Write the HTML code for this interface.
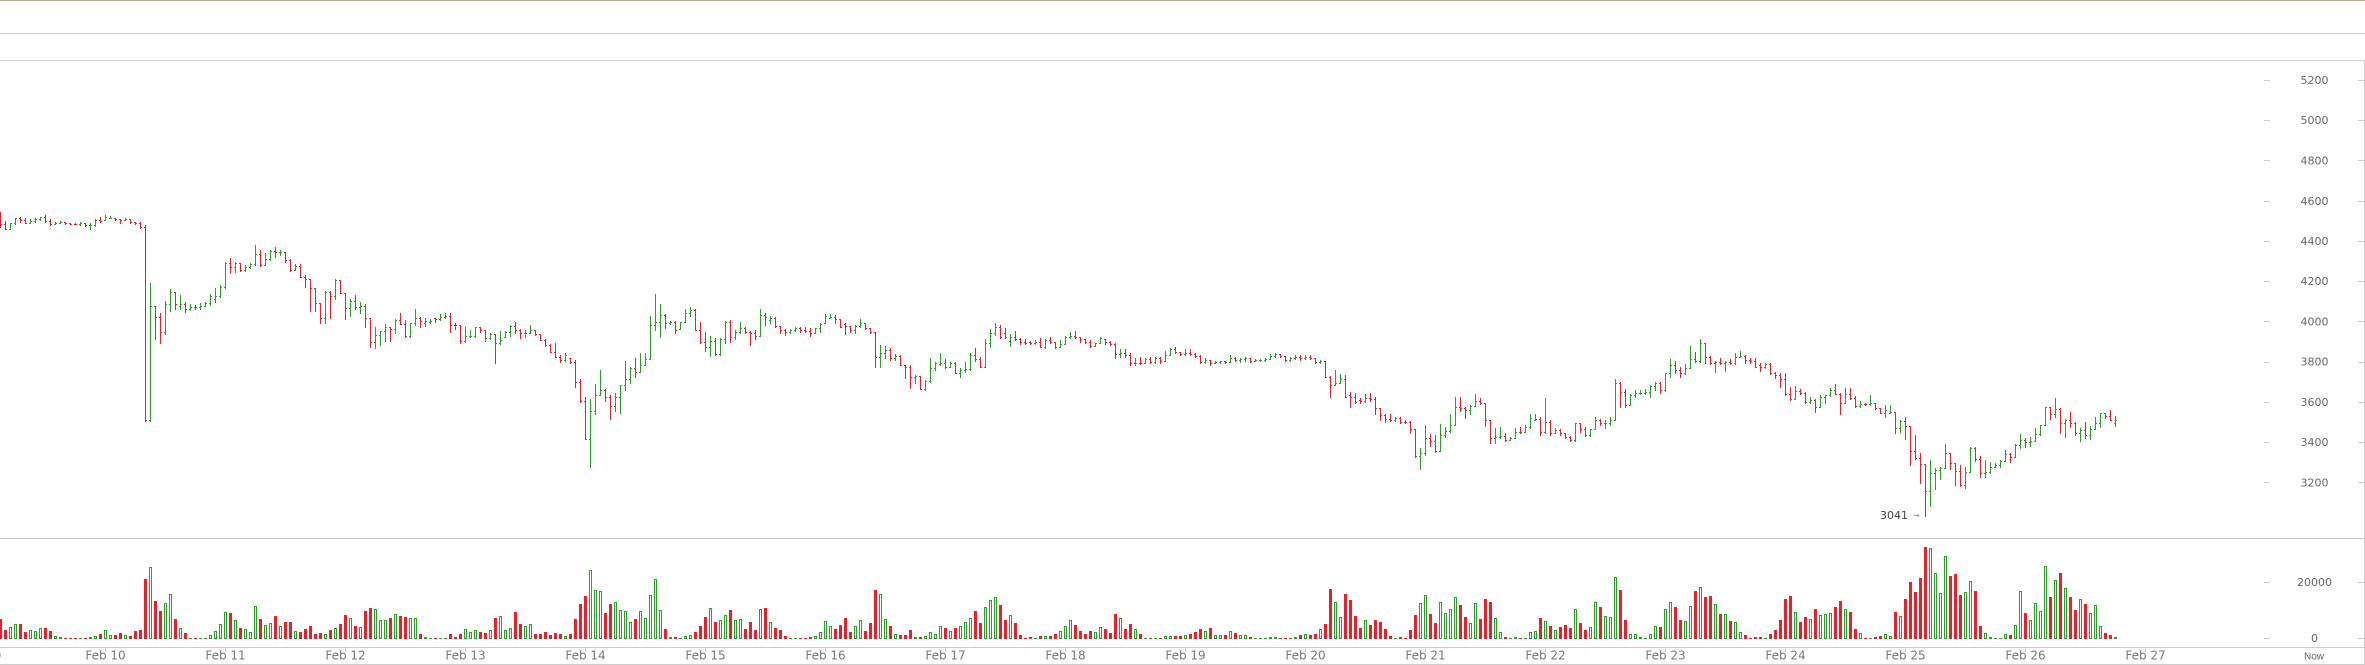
<!DOCTYPE html>
<html><head><meta charset="utf-8">
<style>
html,body{margin:0;padding:0;background:#fff;}
body{width:2365px;height:665px;overflow:hidden;position:relative;}
svg{position:absolute;left:0;top:0;}
.ax{font-family:"DejaVu Sans","Liberation Sans",sans-serif;font-size:11px;fill:#666;}
.dt{font-family:"DejaVu Sans","Liberation Sans",sans-serif;font-size:12px;fill:#777;}
</style></head><body>
<svg id="c" width="2365" height="665" viewBox="0 0 2365 665" xmlns="http://www.w3.org/2000/svg" shape-rendering="crispEdges">
<rect x="0" y="0" width="2365" height="665" fill="#fff"/>
<rect x="0" y="0" width="2365" height="1" fill="#b9ad97"/>
<rect x="0" y="33" width="2365" height="1" fill="#ccc"/>
<rect x="0" y="60" width="2365" height="1" fill="#ccc"/>
<rect x="2364" y="60" width="1" height="605" fill="#ccc"/>
<rect x="0" y="538" width="2365" height="1" fill="#ccc"/>
<rect x="0" y="647" width="2365" height="1" fill="#ccc"/>
<rect x="0" y="664" width="2365" height="1" fill="#ccc"/>

<g fill="#ccc">
<rect x="2264" y="80" width="6" height="1"/><rect x="2358" y="80" width="6" height="1"/>
<rect x="2264" y="120" width="6" height="1"/><rect x="2358" y="120" width="6" height="1"/>
<rect x="2264" y="160" width="6" height="1"/><rect x="2358" y="160" width="6" height="1"/>
<rect x="2264" y="201" width="6" height="1"/><rect x="2358" y="201" width="6" height="1"/>
<rect x="2264" y="241" width="6" height="1"/><rect x="2358" y="241" width="6" height="1"/>
<rect x="2264" y="281" width="6" height="1"/><rect x="2358" y="281" width="6" height="1"/>
<rect x="2264" y="321" width="6" height="1"/><rect x="2358" y="321" width="6" height="1"/>
<rect x="2264" y="362" width="6" height="1"/><rect x="2358" y="362" width="6" height="1"/>
<rect x="2264" y="402" width="6" height="1"/><rect x="2358" y="402" width="6" height="1"/>
<rect x="2264" y="442" width="6" height="1"/><rect x="2358" y="442" width="6" height="1"/>
<rect x="2264" y="482" width="6" height="1"/><rect x="2358" y="482" width="6" height="1"/>
<rect x="2264" y="582" width="6" height="1"/><rect x="2358" y="582" width="6" height="1"/>
<rect x="2264" y="638" width="6" height="1"/><rect x="2358" y="638" width="6" height="1"/>
</g>
<g class="ax" text-anchor="middle">
<text x="2314.5" y="84">5200</text>
<text x="2314.5" y="124">5000</text>
<text x="2314.5" y="164.5">4800</text>
<text x="2314.5" y="205">4600</text>
<text x="2314.5" y="245">4400</text>
<text x="2314.5" y="285">4200</text>
<text x="2314.5" y="325.5">4000</text>
<text x="2314.5" y="365.5">3800</text>
<text x="2314.5" y="406">3600</text>
<text x="2314.5" y="446">3400</text>
<text x="2314.5" y="486.5">3200</text>
<text x="2314.5" y="586">20000</text>
<text x="2314.5" y="642">0</text>
</g>
<text x="2314" y="659.5" text-anchor="middle" style="font-family:'Liberation Sans',sans-serif;font-size:10px;fill:#666;">Now</text>

<g fill="#ccc">
<rect x="105" y="648" width="1" height="4"/><rect x="225" y="648" width="1" height="4"/>
<rect x="345" y="648" width="1" height="4"/><rect x="465" y="648" width="1" height="4"/>
<rect x="585" y="648" width="1" height="4"/><rect x="705" y="648" width="1" height="4"/>
<rect x="825" y="648" width="1" height="4"/><rect x="945" y="648" width="1" height="4"/>
<rect x="1065" y="648" width="1" height="4"/><rect x="1185" y="648" width="1" height="4"/>
<rect x="1305" y="648" width="1" height="4"/><rect x="1425" y="648" width="1" height="4"/>
<rect x="1545" y="648" width="1" height="4"/><rect x="1665" y="648" width="1" height="4"/>
<rect x="1785" y="648" width="1" height="4"/><rect x="1905" y="648" width="1" height="4"/>
<rect x="2025" y="648" width="1" height="4"/><rect x="2145" y="648" width="1" height="4"/>
</g>
<g class="dt" text-anchor="middle">
<text x="-15" y="659.5">Feb 9</text>
<text x="105.5" y="659.5">Feb 10</text>
<text x="225.5" y="659.5">Feb 11</text>
<text x="345.5" y="659.5">Feb 12</text>
<text x="465.5" y="659.5">Feb 13</text>
<text x="585.5" y="659.5">Feb 14</text>
<text x="705.5" y="659.5">Feb 15</text>
<text x="825.5" y="659.5">Feb 16</text>
<text x="945.5" y="659.5">Feb 17</text>
<text x="1065.5" y="659.5">Feb 18</text>
<text x="1185.5" y="659.5">Feb 19</text>
<text x="1305.5" y="659.5">Feb 20</text>
<text x="1425.5" y="659.5">Feb 21</text>
<text x="1545.5" y="659.5">Feb 22</text>
<text x="1665.5" y="659.5">Feb 23</text>
<text x="1785.5" y="659.5">Feb 24</text>
<text x="1905.5" y="659.5">Feb 25</text>
<text x="2025.5" y="659.5">Feb 26</text>
<text x="2145.5" y="659.5">Feb 27</text>
</g>

<text x="1880" y="519" style="font-family:'DejaVu Sans',sans-serif;font-size:11px;fill:#444;">3041</text>
<text x="1913" y="518" style="font-family:'DejaVu Sans',sans-serif;font-size:8px;fill:#888;">→</text>

<g id="bars"></g>
</svg>
<script>
var P=[65,112,103, 93,118,117, 98,118,100, 83,103,85, 82,95,90, 85,100,98, 87,98,92, 85,95,88, 80,90,82, 76,95,92,
88,105,103, 95,103,98, 92,100,96, 96,102,100, 98,103,101, 100,103,102, 97,104,100, 100,108,106, 100,118,105, 88,108,90,
80,95,92, 76,90,82, 78,85,83, 84,90,88, 87,98,90, 85,90,86, 87,100,97, 95,103,100, 95,113,110, 105,693,690,
280,693,349, 349,448,382, 370,458,425, 333,432,342, 297,362,307, 307,358,342, 315,356,342, 337,365,358, 343,360,350, 345,356,352,
340,356,348, 336,348,338, 313,345,318, 295,335,318, 285,320,292, 215,295,218, 205,250,232, 215,245,218, 218,242,240, 226,242,232,
218,235,222, 165,225,192, 180,228,225, 190,225,206, 180,210,182, 172,200,187, 180,195,186, 186,217,210, 208,242,240, 222,240,228,
222,262,260, 255,290,268, 268,362,295, 295,362,340, 340,398,385, 303,398,305, 303,383,318, 268,326,270, 270,310,310, 310,386,355,
326,378,332, 315,356,350, 337,368,348, 342,412,384, 384,470,457, 410,473,436, 423,465,424, 403,452,412, 412,452,417, 387,430,390,
370,403,403, 390,440,438, 400,440,400, 357,405,383, 382,412,392, 384,407,392, 388,400,392, 383,397,387, 372,390,380, 370,385,377,
370,425,405, 400,418,406, 406,458,452, 410,456,438, 420,440,437, 410,440,412, 410,425,420, 420,452,444, 430,448,432, 432,518,460,
423,462,450, 423,440,425, 405,437,407, 397,428,420, 418,445,430, 420,440,428, 405,430,420, 420,435,433, 433,450,450, 448,467,465,
462,485,485, 460,502,500, 495,515,510, 490,512,495, 503,520,515, 510,590,577, 568,637,632, 622,748,746, 628,832,663, 582,673,615,
540,615,600, 598,632,620, 615,688,648, 608,662,620, 585,668,585, 513,600,568, 530,578,533, 505,560,545, 490,547,525, 490,525,506,
378,508,406, 312,420,395, 343,440,374, 372,415,398, 392,402,395, 392,428,420, 395,418,395, 356,395,370, 352,378,360, 358,420,420,
395,458,455, 425,483,472, 437,497,452, 445,495,492, 445,495,447, 393,460,395, 390,455,440, 420,448,425, 396,430,415, 410,430,427,
422,465,430, 420,448,437, 357,438,375, 370,405,382, 378,398,383, 380,410,408, 408,428,420, 418,436,425, 416,428,420, 410,423,413,
410,425,420, 412,425,422, 415,437,428, 415,430,415, 400,425,403, 372,400,377, 372,385,380, 375,400,388, 388,412,410, 398,433,408,
408,425,420, 405,428,408, 388,412,400, 400,418,415, 415,430,427, 425,530,500, 465,530,490, 467,505,480, 475,510,505, 492,510,498,
495,525,525, 525,565,530, 525,593,560, 555,580,557, 557,598,598, 570,600,572, 505,575,535, 515,540,518, 490,525,520, 508,535,532,
515,530,518, 515,550,548, 533,560,540, 515,545,538, 490,540,495, 475,512,508, 502,532,532, 448,532,460, 418,472,430, 400,435,412,
405,445,440, 415,445,440, 432,468,440, 423,450,448, 443,462,455, 448,462,460, 452,462,458, 450,462,455, 445,470,470, 447,475,450,
440,458,455, 455,475,472, 450,472,462, 438,462,440, 425,445,438, 423,445,440, 440,455,448, 448,458,455, 450,470,468, 458,468,460,
440,460,445, 448,462,455, 452,465,462, 460,505,492, 478,502,490, 478,500,495, 490,525,520, 505,525,518, 502,522,520, 505,520,508,
502,518,515, 502,518,505, 502,518,512, 482,512,495, 474,495,478, 472,488,485, 485,495,492, 478,495,490, 478,495,492, 490,500,497,
495,518,515, 505,518,510, 510,525,518, 512,520,515, 512,520,514, 512,518,517, 496,515,505, 500,512,510, 505,515,508, 502,512,505,
505,515,512, 508,512,510, 508,512,509, 505,512,508, 492,508,497, 490,500,492, 492,500,497, 497,512,510, 500,512,505, 496,508,500,
496,510,505, 496,508,500, 496,508,505, 505,518,515, 510,520,512, 512,562,562, 558,620,585, 540,585,580, 552,580,568, 555,622,622,
605,650,622, 610,640,635, 625,638,632, 612,635,625, 610,632,628, 622,672,655, 655,690,675, 672,695,688, 672,692,690, 682,692,685,
682,698,695, 690,698,696, 693,728,717, 717,800,797, 775,838,790, 705,795,745, 733,768,753, 735,785,783, 702,783,735, 712,742,722,
672,725,705, 622,705,650, 622,662,655, 650,683,660, 645,672,648, 612,648,632, 625,642,640, 640,707,690, 690,760,745, 715,760,742,
712,745,738, 730,752,750, 740,750,745, 715,745,725, 712,730,727, 705,725,712, 672,715,685, 672,690,687, 680,735,725, 625,730,695,
690,735,728, 715,730,720, 718,735,730, 730,745,740, 738,752,750, 698,752,698, 698,725,718, 712,738,735, 718,738,718, 680,718,690,
688,705,700, 690,715,698, 682,705,690, 568,690,580, 575,650,605, 598,650,645, 612,645,615, 600,620,610, 600,612,608, 598,612,605,
585,620,587, 575,600,578, 575,610,600, 548,602,550, 508,562,525, 513,550,540, 530,560,550, 522,552,535, 468,535,508, 487,515,512,
448,515,460, 458,518,500, 498,522,518, 512,545,515, 505,522,520, 512,542,515, 508,522,520, 490,522,500, 483,502,498, 495,518,510,
505,518,512, 505,532,530, 518,542,530, 520,535,522, 520,552,550, 545,565,555, 548,590,568, 550,615,612, 592,630,628, 588,628,602,
598,612,608, 605,638,637, 620,640,630, 628,665,650, 615,650,620, 615,640,616, 595,618,600, 582,612,612, 610,672,640, 595,640,612,
595,628,625, 618,650,648, 632,650,642, 640,645,643, 615,645,640, 638,658,655, 655,670,670, 645,680,660, 645,670,665, 665,730,715,
690,725,692, 682,748,708, 708,825,782, 735,808,805, 790,878,822, 822,978,903, 810,947,848, 835,898,840, 832,868,835, 762,835,790,
788,838,820, 818,885,842, 825,888,885, 830,895,845, 772,845,775, 772,812,808, 798,862,848, 810,862,845, 815,848,830, 820,832,825,
810,830,812, 780,812,793, 790,815,802, 762,802,765, 732,775,750, 745,770,755, 740,768,752, 715,752,732, 705,735,705, 652,705,652,
650,688,672, 625,680,658, 655,728,700, 688,740,690, 665,710,700, 695,735,728, 715,752,720, 695,745,735, 708,748,718, 682,718,700,
668,712,670, 670,685,678, 660,690,690, 678,708,690];
var V=("r20 r9 g12 g15 r15 r7 g9 g8 g11 r11 "+
"r8 g3 g2 r1 r.5 r.5 g.5 r.5 g2 g3 "+
"r5 g9 g4 r4 r6 g4 r3 r8 r9 r60 "+
"g72 r38 r28 g36 g45 r20 g11 r6 g1 r1 "+
"g.5 g1 g4 g8 g15 g27 r26 g19 r11 g10 "+
"g7 g33 r20 g14 g16 r23 g13 r17 r17 g8 "+
"r7 r10 r13 r5 r6 g5 r9 g11 r15 r24 "+
"g21 r13 g12 r28 r31 g30 g19 g19 r21 g25 "+
"r23 r22 g21 g21 r5 g2 g1 r.5 g1 g1 "+
"r5 r2 r5 g10 g7 g9 r7 r6 g9 r21 "+
"g23 g9 g11 r27 r15 g13 g15 r5 r5 r7 "+
"r4 r6 r5 g3 r5 r20 r35 r43 g69 g49 "+
"g48 r26 r35 g37 g29 g28 g17 r20 g28 g21 "+
"g44 g60 g29 r10 g2 r2 g1 g3 g4 r7 "+
"r13 r22 g31 r17 g19 g24 r29 g19 g20 r10 "+
"r17 r9 g30 r31 g17 r11 r9 r3 g1 g1 "+
"r1 r1 r2 g3 g7 g18 g13 r10 r14 r21 "+
"r7 g13 g19 r8 r16 r49 g45 g20 r13 g5 "+
"r4 r4 r9 g2 r2 g3 g7 g5 g13 r11 "+
"g8 r11 g13 g17 g21 r28 r16 g32 g39 g42 "+
"r34 r19 g24 r16 r4 r1 r2 g0 r3 g3 "+
"r3 r5 g8 g13 g19 r14 r8 r5 r8 g7 "+
"g12 r10 r6 r25 g21 r10 r15 g10 r5 g1 "+
"r0 g0 r0 g3 g3 r3 r3 g4 r5 r7 "+
"r10 g8 r11 g4 g4 r4 g8 r6 g4 g4 "+
"r2 g1 g1 g1 g2 g2 r0 r1 g1 g2 "+
"r4 g5 r4 r5 g10 r15 r50 g37 g22 r45 "+
"r39 r23 r11 g19 r14 r19 r17 r10 r3 g0 "+
"r2 r1 r9 r24 g36 g44 r25 r16 g37 g26 "+
"g30 g42 r34 r22 g16 g36 r20 r40 r37 g21 "+
"g7 r2 g1 g2 r1 g1 g7 g8 r21 g18 "+
"r13 g9 r12 r14 r11 g30 r16 r9 g12 g37 "+
"r32 g23 g22 g62 r49 r19 g5 g5 g2 g1 "+
"g5 g13 r12 g30 g37 r32 r19 g18 g33 r48 "+
"g52 r42 r43 g35 r25 g25 r18 g17 g7 r4 "+
"r1 r2 r2 g1 r5 r9 r19 r40 r43 g27 "+
"r17 r22 g20 r30 g24 g25 g26 r32 r38 g30 "+
"r27 r10 g6 r0 g1 r2 r3 g5 g3 r27 "+
"g23 r40 r57 r47 r61 r92 g91 g66 g46 g83 "+
"r63 r65 r44 g47 g58 r48 r13 g6 g2 g1 "+
"g1 g5 r4 g14 g48 r26 g19 g36 g28 g73 "+
"r42 g59 r66 g51 r42 r29 g40 r35 g26 g34 "+
"g13 r6 r4 g2").split(" ");
var RED="#e8202a", GRN="#2e9e2a";
var s="", prev=null, n=Math.min(P.length/3, V.length);
function Y(p){return Math.round(190+p/3);}
for(var i=0;i<n;i++){
  var h=P[3*i], l=P[3*i+1], c=P[3*i+2];
  var v=V[i], col=v.charAt(0), vh=parseFloat(v.slice(1))||0;
  var o=(prev===null)?h:prev;
  if(o<h)o=h; if(o>l)o=l;
  if(col==="g"){ if(o<=c){ o=Math.min(l, c+Math.max(3,(l-c)/2)); } }
  else { if(o>=c){ o=Math.max(h, c-Math.max(3,(c-h)/2)); } }
  prev=c;
  var X=5*i, f=(col==="g")?GRN:RED;
  var yh=Y(h), yl=Y(l), yo=Y(o), yc=Y(c);
  s+='<rect x="'+X+'" y="'+yh+'" width="1" height="'+Math.max(1,yl-yh+1)+'" fill="'+f+'"/>';
  s+='<rect x="'+(X-1)+'" y="'+yo+'" width="1" height="1" fill="'+f+'"/>';
  s+='<rect x="'+(X+1)+'" y="'+yc+'" width="1" height="1" fill="'+f+'"/>';
  var vv=Math.round(vh);
  if(col==="r"){
    if(vv<1)vv=1;
    s+='<rect x="'+(X-1)+'" y="'+(639-vv)+'" width="3" height="'+vv+'" fill="'+RED+'"/>';
  } else {
    if(vv<2){
      s+='<rect x="'+(X-1)+'" y="638" width="3" height="1" fill="'+GRN+'"/>';
    } else {
      s+='<rect x="'+(X-0.5)+'" y="'+(639-vv+0.5)+'" width="2" height="'+(vv-1)+'" fill="#fff" stroke="'+GRN+'" stroke-width="1"/>';
    }
  }
}
document.getElementById("bars").innerHTML=s;
</script>
</body></html>
